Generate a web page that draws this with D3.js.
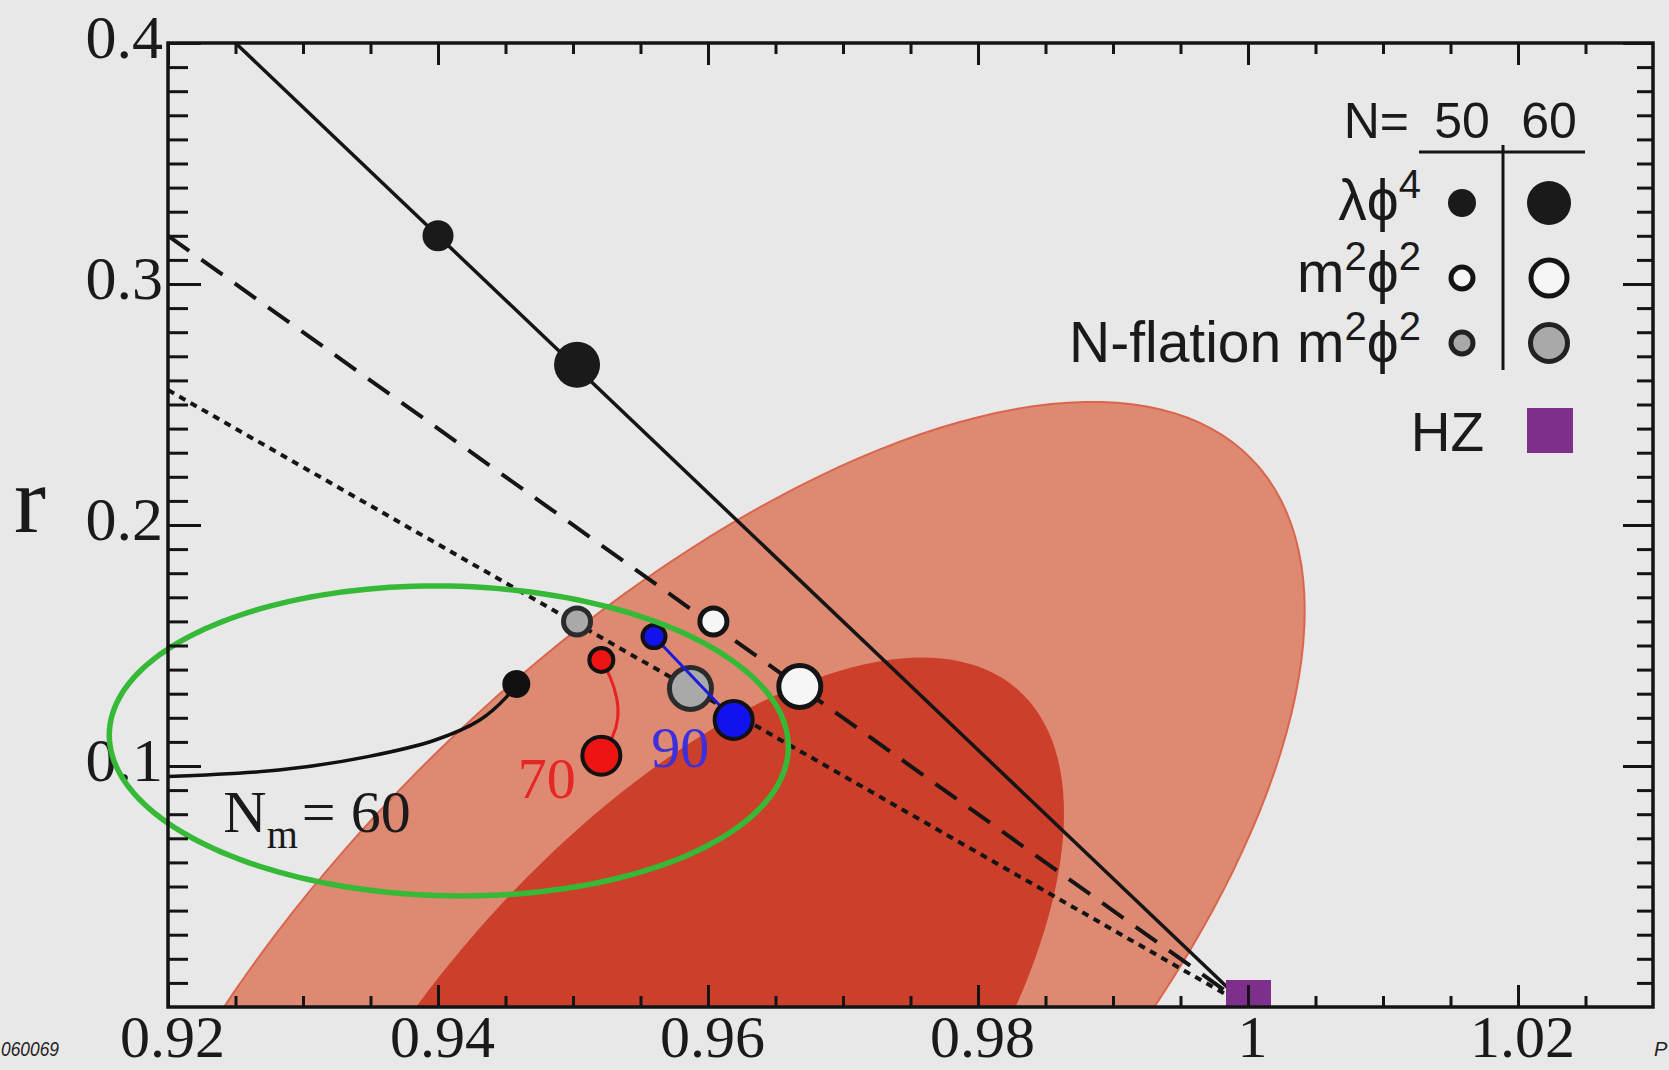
<!DOCTYPE html>
<html>
<head>
<meta charset="utf-8">
<script src="https://cdnjs.cloudflare.com/ajax/libs/d3/7.8.5/d3.min.js"></script>
<style>
  html, body { margin: 0; padding: 0; background: #e8e8e9; overflow: hidden; }
  svg { display: block; }
</style>
</head>
<body>
<svg id="chart" width="1669" height="1070"></svg>
<script>
// values (ns on x, r on y)
const xTicks = [0.92, 0.94, 0.96, 0.98, 1.0, 1.02];
const xTickLabels = ['0.92', '0.94', '0.96', '0.98', '1', '1.02'];
const yTicks = [0.1, 0.2, 0.3, 0.4];
const yTickLabels = ['0.1', '0.2', '0.3', '0.4'];

const efolds = [50, 60];
const lphi4Ns = [0.9400, 0.9503];
const lphi4R = [0.3200, 0.2665];
const m2phi2Ns = [0.9604, 0.9668];
const m2phi2R = [0.1600, 0.1330];
const nflationNs = [0.9503, 0.9587];
const nflationR = [0.1600, 0.1322];

// model lines, all ending at ns = 1, r = 0
const lphi4LineNs = [0.925, 1.0];
const lphi4LineR = [0.400, 0.0];
const m2phi2LineNs = [0.920, 1.0];
const m2phi2LineR = [0.320, 0.0];
const nflationLineNs = [0.920, 1.0];
const nflationLineR = [0.256, 0.0];

// N_m = 60 track, 70 and 90 tracks
const nm60Ns = [0.9200, 0.9282, 0.9348, 0.9398, 0.9431, 0.9451, 0.9458];
const nm60R = [0.0956, 0.0983, 0.1039, 0.1108, 0.1191, 0.1288, 0.1340];
const track70Ns = [0.9521, 0.9528, 0.9533, 0.9534, 0.9530, 0.9521];
const track70R = [0.1440, 0.1370, 0.1280, 0.1200, 0.1120, 0.1043];
const track90Ns = [0.9560, 0.9619];
const track90R = [0.1537, 0.1191];

const hzNs = [1.0];
const hzR = [0.0];

// regions: centre ns, centre r, sigma ns, sigma r, correlation
const outerRegion = [0.9586, 0.000, 0.0456, 0.2511, 0.655];
const innerRegion = [0.9567, -0.0369, 0.02967, 0.1819, 0.645];
const greenRegion = [0.9408, 0.1104, 0.02515, 0.06432, -0.038];

const svg = d3.select('#chart');
const x = d3.scaleLinear().domain([0.92, 1.03]).range([168, 1653]);
const y = d3.scaleLinear().domain([0, 0.4]).range([1007, 43]);

svg.append('rect').attr('width', 1669).attr('height', 1070).attr('fill', '#e8e8e9');

svg.append('clipPath').attr('id', 'plotclip')
  .append('rect')
  .attr('x', x(0.92)).attr('y', y(0.4))
  .attr('width', x(1.03) - x(0.92)).attr('height', y(0) - y(0.4));

const zip = (a, b) => a.map((v, i) => [v, b[i]]);
const line = d3.line().x(d => x(d[0])).y(d => y(d[1]));
const smooth = d3.line().x(d => x(d[0])).y(d => y(d[1])).curve(d3.curveCatmullRom);
const soft = d3.line().x(d => x(d[0])).y(d => y(d[1])).curve(d3.curveBasis);
const closed = d3.line().x(d => x(d[0])).y(d => y(d[1])).curve(d3.curveLinearClosed);

function ellipsePts(p) {
  const [cx, cy, sx, sy, rho] = p;
  return d3.range(0, 360, 2).map(a => {
    const t = a * Math.PI / 180;
    return [cx + sx * Math.cos(t), cy + sy * (rho * Math.cos(t) + Math.sqrt(1 - rho * rho) * Math.sin(t))];
  });
}

// y label texts go first, the green ellipse runs over them
const yAxis = svg.append('g').attr('transform', `translate(${x(0.92)},0)`)
  .call(d3.axisLeft(y).tickValues(yTicks).tickSize(-33).tickPadding(5)
    .tickFormat((d, i) => yTickLabels[i]));
yAxis.selectAll('text').attr('dy', '0.24em')
  .style('font-family', '"Liberation Serif", serif').style('font-size', '62px').attr('fill', '#1a1a1a');

const plot = svg.append('g').attr('clip-path', 'url(#plotclip)');

plot.append('path').attr('d', closed(ellipsePts(outerRegion)))
  .attr('fill', '#de8a72').attr('stroke', '#d9664c').attr('stroke-width', 2);
plot.append('path').attr('d', closed(ellipsePts(innerRegion)))
  .attr('fill', '#cc3f2a');

// model lines
plot.append('path').attr('d', line(zip(lphi4LineNs, lphi4LineR)))
  .attr('fill', 'none').attr('stroke', '#151515').attr('stroke-width', 3.5);
plot.append('path').attr('d', line(zip(m2phi2LineNs, m2phi2LineR)))
  .attr('fill', 'none').attr('stroke', '#151515').attr('stroke-width', 4)
  .attr('stroke-dasharray', '26 15');
plot.append('path').attr('d', line(zip(nflationLineNs, nflationLineR)))
  .attr('fill', 'none').attr('stroke', '#151515').attr('stroke-width', 4)
  .attr('stroke-dasharray', '7 6');

plot.append('path').attr('d', smooth(zip(nm60Ns, nm60R)))
  .attr('fill', 'none').attr('stroke', '#111').attr('stroke-width', 3.5);

// green ellipse reaches outside the frame on the left
svg.append('path').attr('d', closed(ellipsePts(greenRegion)))
  .attr('fill', 'none').attr('stroke', '#36b936').attr('stroke-width', 5.5);

const sizes = [13.5, 21];

plot.selectAll('.lphi4').data(zip(lphi4Ns, lphi4R)).enter().append('circle')
  .attr('cx', d => x(d[0])).attr('cy', d => y(d[1]))
  .attr('r', (d, i) => sizes[i] + 2).attr('fill', '#1a1a1a');
plot.selectAll('.m2phi2').data(zip(m2phi2Ns, m2phi2R)).enter().append('circle')
  .attr('cx', d => x(d[0])).attr('cy', d => y(d[1]))
  .attr('r', (d, i) => sizes[i])
  .attr('fill', '#f6f6f6').attr('stroke', '#141414').attr('stroke-width', 5);
plot.selectAll('.nfl').data(zip(nflationNs, nflationR)).enter().append('circle')
  .attr('cx', d => x(d[0])).attr('cy', d => y(d[1]))
  .attr('r', (d, i) => sizes[i])
  .attr('fill', '#a9a9a9').attr('stroke', '#2b2b2b').attr('stroke-width', 5);

// end of N_m = 60 track
plot.append('circle')
  .attr('cx', x(nm60Ns[nm60Ns.length - 1])).attr('cy', y(nm60R[nm60R.length - 1]))
  .attr('r', 14).attr('fill', '#111');

plot.append('path').attr('d', soft(zip(track70Ns, track70R)))
  .attr('fill', 'none').attr('stroke', '#e82222').attr('stroke-width', 3);
plot.selectAll('.t70').data([0, track70Ns.length - 1]).enter().append('circle')
  .attr('cx', i => x(track70Ns[i])).attr('cy', i => y(track70R[i]))
  .attr('r', (i, k) => k ? 19 : 12)
  .attr('fill', '#ee1414').attr('stroke', '#111').attr('stroke-width', 4);

plot.append('path').attr('d', line(zip(track90Ns, track90R)))
  .attr('fill', 'none').attr('stroke', '#1a1ae0').attr('stroke-width', 3);
plot.selectAll('.t90').data([0, track90Ns.length - 1]).enter().append('circle')
  .attr('cx', i => x(track90Ns[i])).attr('cy', i => y(track90R[i]))
  .attr('r', (i, k) => k ? 19 : 11.5)
  .attr('fill', '#1212ee').attr('stroke', '#111').attr('stroke-width', 4);

plot.selectAll('.hz').data(zip(hzNs, hzR)).enter().append('rect')
  .attr('x', d => x(d[0]) - 22).attr('y', d => y(d[1]) - 27)
  .attr('width', 45).attr('height', 54).attr('fill', '#7e2f8c');

// labels on the tracks
svg.append('text').attr('x', x(0.9459)).attr('y', y(0.0867)).text('70')
  .style('font-family', '"Liberation Serif", serif').style('font-size', '58px').attr('fill', '#e62525');
svg.append('text').attr('x', x(0.9558)).attr('y', y(0.0996)).text('90')
  .style('font-family', '"Liberation Serif", serif').style('font-size', '58px').attr('fill', '#3b30dc');
const nm = svg.append('text').attr('x', x(0.9241)).attr('y', y(0.0726))
  .style('font-family', '"Liberation Serif", serif').style('font-size', '60px').attr('fill', '#1a1a1a');
nm.append('tspan').text('N');
nm.append('tspan').text('m').style('font-size', '40px').attr('dy', 16);
nm.append('tspan').text('= 60').attr('dy', -16).attr('dx', 4);

// frame and ticks
const tickStyle = (g, w) => {
  g.select('.domain').remove();
  g.selectAll('line').attr('stroke', '#141414').attr('stroke-width', w);
};
const xMinor = d3.range(1, 22).filter(i => i % 4 !== 0).map(i => 0.92 + i * 0.005);
const yMinor = d3.range(1, 40).filter(i => i % 10 !== 0).map(i => i / 100);

svg.append('g').attr('transform', `translate(0,${y(0)})`)
  .call(d3.axisBottom(x).tickValues(xMinor).tickSize(-11).tickFormat(''))
  .call(g => tickStyle(g, 3));
const xAxis = svg.append('g').attr('transform', `translate(0,${y(0)})`)
  .call(d3.axisBottom(x).tickValues(xTicks).tickSize(-22).tickPadding(7)
    .tickFormat((d, i) => xTickLabels[i]))
  .call(g => tickStyle(g, 3));
xAxis.selectAll('text').attr('dx', 4)
  .style('font-family', '"Liberation Serif", serif').style('font-size', '60px').attr('fill', '#1a1a1a');

svg.append('g').attr('transform', `translate(0,${y(0.4)})`)
  .call(d3.axisTop(x).tickValues(xMinor).tickSize(-11).tickFormat(''))
  .call(g => tickStyle(g, 3));
svg.append('g').attr('transform', `translate(0,${y(0.4)})`)
  .call(d3.axisTop(x).tickValues(xTicks).tickSize(-22).tickFormat(''))
  .call(g => tickStyle(g, 3));

svg.append('g').attr('transform', `translate(${x(0.92)},0)`)
  .call(d3.axisLeft(y).tickValues(yMinor).tickSize(-20).tickFormat(''))
  .call(g => tickStyle(g, 3));
tickStyle(yAxis, 3);

svg.append('g').attr('transform', `translate(${x(1.03)},0)`)
  .call(d3.axisRight(y).tickValues(yMinor).tickSize(-16).tickFormat(''))
  .call(g => tickStyle(g, 3));
svg.append('g').attr('transform', `translate(${x(1.03)},0)`)
  .call(d3.axisRight(y).tickValues(yTicks).tickSize(-30).tickFormat(''))
  .call(g => tickStyle(g, 3));

svg.append('rect')
  .attr('x', x(0.92)).attr('y', y(0.4))
  .attr('width', x(1.03) - x(0.92)).attr('height', y(0) - y(0.4))
  .attr('fill', 'none').attr('stroke', '#141414').attr('stroke-width', 3.5);

svg.append('text').attr('x', 14).attr('y', 532).text('r')
  .style('font-family', '"Liberation Serif", serif').style('font-size', '96px').attr('fill', '#1a1a1a');

// legend
const lg = svg.append('g')
  .style('font-family', '"Liberation Sans", Arial, sans-serif').attr('fill', '#1a1a1a');
const colX = [1462, 1549];
const rowY = [203, 278, 343];

lg.append('text').attr('x', 1409).attr('y', 138).attr('text-anchor', 'end')
  .style('font-size', '50px').text('N=');
lg.selectAll('.hdr').data(efolds).enter().append('text')
  .attr('x', (d, i) => colX[i]).attr('y', 138).attr('text-anchor', 'middle')
  .style('font-size', '50px').text(d => d);
lg.append('line').attr('x1', 1419).attr('x2', 1585).attr('y1', 152).attr('y2', 152)
  .attr('stroke', '#141414').attr('stroke-width', 3);
lg.append('line').attr('x1', 1503).attr('x2', 1503).attr('y1', 145).attr('y2', 370)
  .attr('stroke', '#141414').attr('stroke-width', 3);

const rowLabels = [
  [['λϕ', 0], ['4', 1]],
  [['m', 0], ['2', 1], ['ϕ', 0], ['2', 1]],
  [['N-flation m', 0], ['2', 1], ['ϕ', 0], ['2', 1]]
];
const rowBase = [220, 292, 362];
rowLabels.forEach((parts, r) => {
  const t = lg.append('text').attr('x', 1421).attr('y', rowBase[r])
    .attr('text-anchor', 'end').style('font-size', '57px');
  let up = 0;
  parts.forEach(([s, sup]) => {
    const sp = t.append('tspan').text(s);
    if (sup && !up) { sp.attr('dy', -22).style('font-size', '40px'); up = 1; }
    else if (!sup && up) { sp.attr('dy', 22); up = 0; }
    else if (sup) sp.style('font-size', '40px');
  });
});

lg.selectAll('.l1').data(colX).enter().append('circle')
  .attr('cx', d => d).attr('cy', rowY[0]).attr('r', (d, i) => i ? 22 : 14).attr('fill', '#1a1a1a');
lg.selectAll('.l2').data(colX).enter().append('circle')
  .attr('cx', d => d).attr('cy', rowY[1]).attr('r', (d, i) => i ? 18 : 11)
  .attr('fill', '#f6f6f6').attr('stroke', '#141414').attr('stroke-width', 5);
lg.selectAll('.l3').data(colX).enter().append('circle')
  .attr('cx', d => d).attr('cy', rowY[2]).attr('r', (d, i) => i ? 18.5 : 11)
  .attr('fill', '#a9a9a9').attr('stroke', '#222').attr('stroke-width', 5);

lg.append('text').attr('x', 1484).attr('y', 451).attr('text-anchor', 'end')
  .style('font-size', '55px').text('HZ');
lg.append('rect').attr('x', 1527).attr('y', 408).attr('width', 46).attr('height', 45).attr('fill', '#7e2f8c');

// side notes of the scan
svg.append('text').attr('x', 1).attr('y', 1056).text('060069')
  .attr('textLength', 58).attr('lengthAdjust', 'spacingAndGlyphs')
  .style('font-family', '"Liberation Sans", sans-serif').style('font-style', 'italic')
  .style('font-size', '20px').attr('fill', '#222');
svg.append('text').attr('x', 1654).attr('y', 1056).text('P')
  .style('font-family', '"Liberation Sans", sans-serif').style('font-style', 'italic')
  .style('font-size', '20px').attr('fill', '#222');
</script>
</body>
</html>
